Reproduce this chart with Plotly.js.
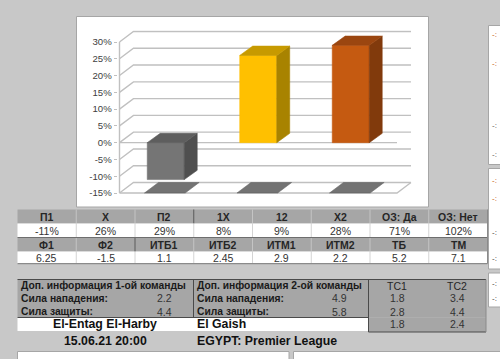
<!DOCTYPE html>
<html><head><meta charset="utf-8">
<script src="https://cdn.plot.ly/plotly-3.0.1.min.js"></script>
<style>html,body{margin:0;padding:0;background:#c8c8c8;overflow:hidden}#chart{width:500px;height:359px}</style>
</head><body><div id="chart"></div>
<script>
// ---------- data ----------
const categories = ['П1', 'X', 'П2'];
const barValues = [-11, 26, 29];
const yTicks = [-15, -10, -5, 0, 5, 10, 15, 20, 25, 30];

const headers1 = ['П1', 'X', 'П2', '1X', '12', 'X2', 'ОЗ: Да', 'ОЗ: Нет'];
const values1 = ['-11%', '26%', '29%', '8%', '9%', '28%', '71%', '102%'];
const headers2 = ['Ф1', 'Ф2', 'ИТБ1', 'ИТБ2', 'ИТМ1', 'ИТМ2', 'ТБ', 'ТМ'];
const values2 = ['6.25', '-1.5', '1.1', '2.45', '2.9', '2.2', '5.2', '7.1'];

const team1Title = 'Доп. информация 1-ой команды';
const team2Title = 'Доп. информация 2-ой команды';
const statLabels = ['Сила нападения:', 'Сила защиты:'];
const team1Stats = ['2.2', '4.4'];
const team2Stats = ['4.9', '5.8'];
const tcHeaders = ['ТС1', 'ТС2'];
const tc1 = ['1.8', '2.8', '1.8'];
const tc2 = ['3.4', '4.4', '2.4'];
const homeTeam = 'El-Entag El-Harby';
const awayTeam = 'El Gaish';
const matchDate = '15.06.21 20:00';
const league = 'EGYPT: Premier League';

// ---------- styles ----------
const W = 500, H = 359;
const FONT = 'Liberation Sans, Arial, sans-serif';
const frontCol = ['#757575', '#ffc000', '#c55a11'];
const sideCol = ['#4f4f4f', '#a88300', '#813a0c'];
const topCol = ['#5e5e5e', '#c79a00', '#9b4610'];
const gridCol = '#c0c0c0';
const HEAD = '#a6a6a6';

// 3D geometry in data units
const dxw = 0.151, dyw = 3.13;   // wall depth
const dxb = 0.14, dyb = 2.77;    // bar depth
const bw = 0.4;
const X0PX = 119.5, XPU = 92.5;  // pixel of x=-0.5, px per unit
const Y0PX = 193, YPU = 151 / 45; // pixel of y=-15, px per unit
const xr = [-0.52, 2.5 + dxw + 0.03];
const yr = [-15.4, 30 + dyw + 0.4];

const traces = [];
function poly(xs, ys, c) {
  traces.push({type: 'scatter', mode: 'lines', x: xs.concat([xs[0]]), y: ys.concat([ys[0]]),
    fill: 'toself', fillcolor: c, line: {color: c, width: 0.6}, hoverinfo: 'skip'});
}
// grid lines on back & side walls
let gx = [], gy = [];
yTicks.forEach(v => { gx.push(-0.5, -0.5 + dxw, 2.5 + dxw, null); gy.push(v, v + dyw, v + dyw, null); });
gx.push(-0.5, -0.5, null); gy.push(yTicks[0], yTicks[yTicks.length - 1], null);
gx.push(-0.5, 2.5, null); gy.push(0, 0, null);
gx.push(-0.5, 2.5, 2.5 + dxw, null); gy.push(yTicks[0], yTicks[0], yTicks[0] + dyw, null);
traces.push({type: 'scatter', mode: 'lines', x: gx, y: gy, line: {color: gridCol, width: 1.4}, hoverinfo: 'skip'});
// floor shadows
barValues.forEach((v, i) => {
  const l = i - bw / 2 - 0.03, r = i + bw / 2 + 0.01;
  poly([l, r, r + dxw, l + dxw], [yTicks[0], yTicks[0], yTicks[0] + dyw, yTicks[0] + dyw], 'rgba(100,100,100,0.9)');
});
// bars
barValues.forEach((v, i) => {
  const l = i - bw / 2, r = i + bw / 2, top = Math.max(v, 0), bot = Math.min(v, 0);
  poly([l, r, r, l], [bot, bot, top, top], frontCol[i]);
  poly([r, r + dxb, r + dxb, r], [bot, bot + dyb, top + dyb, top], sideCol[i]);
  poly([l, r, r + dxb, l + dxb], [top, top, top + dyb, top + dyb], topCol[i]);
});

// ---------- layout helpers ----------
const shapes = [], annotations = [];
const px = x => x / W, py = y => 1 - y / H;
function rect(x0, y0, x1, y1, fill, lc, lw) {
  shapes.push({type: 'rect', xref: 'paper', yref: 'paper', x0: px(x0), x1: px(x1), y0: py(y1), y1: py(y0),
    fillcolor: fill, line: {color: lc || 'rgba(0,0,0,0)', width: lw || 0}, layer: 'below'});
}
function line(x0, y0, x1, y1, c, w) {
  shapes.push({type: 'line', xref: 'paper', yref: 'paper', x0: px(x0), x1: px(x1), y0: py(y0), y1: py(y1),
    line: {color: c, width: w || 1}, layer: 'below'});
}
function text(x, y, t, o) {
  o = o || {};
  annotations.push({xref: 'paper', yref: 'paper', x: px(x), y: py(y), text: o.bold ? '<b>' + t + '</b>' : t,
    showarrow: false, xanchor: o.anchor || 'center', yanchor: 'middle', borderpad: 0,
    font: {family: FONT, size: o.size || 10.5, color: o.color || '#262626'}});
}

// chart frame
rect(76.5, 16.5, 428.5, 207, '#ffffff', '#a6a6a6', 1);
// right-side panels
rect(488.5, 25.5, 502, 164.5, '#ffffff', '#a6a6a6', 1);
rect(488.5, 168.5, 502, 269, '#ffffff', '#a6a6a6', 1);
rect(488.5, 273, 502, 307, '#ffffff', '#a6a6a6', 1);
[[35, '#c55a11'], [64, '#c55a11'], [125, '#595959'], [154, '#595959'], [180, '#c55a11'], [198, '#c55a11'], [232, '#404040'], [258, '#404040'], [283, '#404040'], [298, '#404040']]
  .forEach(p => text(491, p[0], '-:', {anchor: 'left', size: 8, color: p[1]}));
// bottom boxes
rect(17.5, 351.5, 289, 362, '#ffffff', '#a6a6a6', 1);
rect(293.5, 351.5, 502, 362, '#ffffff', '#a6a6a6', 1);

// ---------- top table ----------
const TL = 17.5, CW = 58.75, NC = headers1.length;
const cx = i => TL + (i + 0.5) * CW;
const TR = TL + NC * CW;
rect(TL, 209.5, TR, 223.5, HEAD);
rect(TL, 223.5, TR, 237.5, '#ffffff');
rect(TL, 237.5, TR, 251.5, HEAD);
rect(TL, 251.5, TR, 263.5, '#ffffff');
for (let i = 1; i < NC; i++) {
  const x = TL + i * CW;
  line(x, 209.5, x, 223.5, i === 3 ? '#5a5a5a' : '#c4c4c4', 1);
  line(x, 223.5, x, 237.5, '#d4d4d4', 1);
  line(x, 237.5, x, 251.5, i === 2 ? '#5a5a5a' : '#c4c4c4', 1);
  line(x, 251.5, x, 263.5, '#d4d4d4', 1);
}
line(TL, 237.5, TR, 237.5, '#6e6e6e', 1.2);
line(TL, 263.7, TR, 263.7, '#8a8a8a', 1.2);
line(TR, 209.5, TR, 263.7, '#8a8a8a', 1);
headers1.forEach((t, i) => text(cx(i), 216.8, t, {bold: true}));
values1.forEach((t, i) => text(cx(i), 230.5, t, {color: '#333333'}));
headers2.forEach((t, i) => text(cx(i), 244.8, t, {bold: true}));
values2.forEach((t, i) => text(cx(i), 257.8, t, {color: '#333333'}));

// ---------- bottom table ----------
const BL = 17.5, BM = 193.5, BT = 368.5, BR = 486;
rect(BL, 279.5, BR, 317.5, HEAD);
rect(BT, 317.5, BR, 332, HEAD);
rect(BL, 317.5, BT, 331, '#ffffff');
line(BL, 279.5, BR, 279.5, '#4a4a4a', 1);
line(BM, 279.5, BM, 317.5, '#4a4a4a', 1);
line(BT, 279.5, BT, 332, '#4a4a4a', 1);
line(BL, 317.5, BT, 317.5, '#4a4a4a', 1);
line(BT, 332, BR, 332, '#4a4a4a', 1);
line(BR, 279.5, BR, 332, '#8a8a8a', 1);
text(20, 285.8, team1Title, {bold: true, anchor: 'left', size: 10.3, color: '#1a1a1a'});
text(196, 285.8, team2Title, {bold: true, anchor: 'left', size: 10.3, color: '#1a1a1a'});
const statY = [298.3, 311.5];
statLabels.forEach((t, k) => {
  text(20, statY[k], t, {bold: true, anchor: 'left', size: 10.3, color: '#1a1a1a'});
  text(196, statY[k], t, {bold: true, anchor: 'left', size: 10.3, color: '#1a1a1a'});
  text(164, statY[k], team1Stats[k], {color: '#333333'});
  text(339, statY[k], team2Stats[k], {color: '#333333'});
});
text(397, 285.8, tcHeaders[0], {color: '#262626'});
text(457, 285.8, tcHeaders[1], {color: '#262626'});
const tcY = [298.3, 311.5, 324.3];
tc1.forEach((t, k) => text(397, tcY[k], t, {color: '#333333'}));
tc2.forEach((t, k) => text(457, tcY[k], t, {color: '#333333'}));
text(105, 324.3, homeTeam, {bold: true, size: 12.3, color: '#111111'});
text(196, 324.3, awayTeam, {bold: true, anchor: 'left', size: 12.3, color: '#111111'});
text(105, 340.5, matchDate, {bold: true, size: 12.3, color: '#111111'});
text(196, 340.5, league, {bold: true, anchor: 'left', size: 12.3, color: '#111111'});

// ---------- layout ----------
const layout = {
  width: W, height: H, margin: {l: 0, r: 0, t: 0, b: 0, pad: 0},
  paper_bgcolor: '#c8c8c8', plot_bgcolor: 'rgba(0,0,0,0)', showlegend: false,
  xaxis: {domain: [(X0PX + (xr[0] + 0.5) * XPU) / W, (X0PX + (xr[1] + 0.5) * XPU) / W], range: xr,
    showgrid: false, zeroline: false, showticklabels: false, ticks: '', showline: false, fixedrange: true},
  yaxis: {domain: [1 - (Y0PX - (yr[0] + 15) * YPU) / H, 1 - (Y0PX - (yr[1] + 15) * YPU) / H], range: yr,
    tickvals: yTicks, ticktext: yTicks.map(v => v + '%'), ticks: 'outside', ticklen: 3, tickcolor: gridCol,
    showgrid: false, zeroline: false, showline: false, fixedrange: true,
    tickfont: {family: FONT, size: 9.6, color: '#404040'}},
  shapes: shapes, annotations: annotations
};
Plotly.newPlot('chart', traces, layout, {staticPlot: true, displayModeBar: false});
</script></body></html>
